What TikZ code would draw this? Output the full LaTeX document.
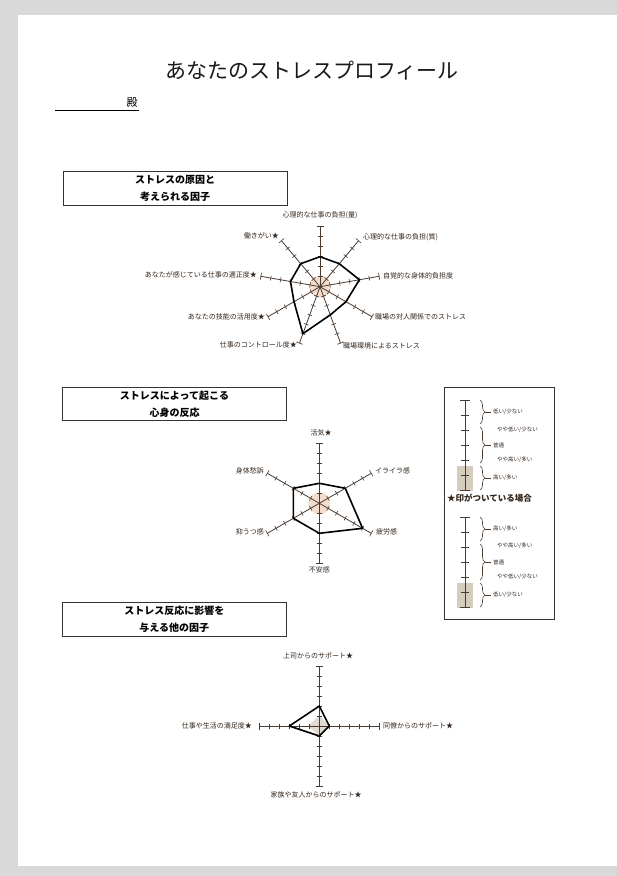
\documentclass[tikz,border=0pt]{standalone}
\usepackage{fontspec}
\setmainfont{Noto Sans CJK JP}
\usetikzlibrary{decorations.pathreplacing}
\definecolor{pagegray}{HTML}{D9D9D9}
\definecolor{axiscol}{HTML}{4A3B30}
\definecolor{labelcol}{HTML}{33261C}
\definecolor{peach}{HTML}{F3DCCB}
\definecolor{tanfill}{HTML}{D6CCBE}
\definecolor{boxcol}{HTML}{333333}
\begin{document}
\begin{tikzpicture}[x=1pt,y=1pt,
  axisline/.style={draw=axiscol, line width=0.8pt},
  tickline/.style={draw=axiscol, line width=0.6pt},
  datapoly/.style={draw=black, line width=1.6pt, line join=round},
  axislabel/.style={font=\fontsize{7}{8}\selectfont, text=labelcol, inner sep=0pt},
  headbox/.style={draw=boxcol, line width=0.9pt, minimum width=224pt, minimum height=33.5pt, inner sep=0pt, align=center, font=\fontsize{10}{17}\selectfont\bfseries},
  legaxis/.style={draw=axiscol, line width=0.8pt},
  legbrace/.style={draw=axiscol, line width=0.6pt},
  leglabel/.style={font=\fontsize{5.5}{6}\selectfont, text=labelcol, inner sep=0pt, anchor=west}]
\useasboundingbox (0,0) rectangle (617,-876);
\fill[pagegray] (0,0) rectangle (617,-876);
\fill[white] (18,-15) rectangle (617,-866);

% title
\node[font=\fontsize{21}{24}\selectfont, text=black!90, inner sep=0pt] (title) at (312,-71) {あなたのストレスプロフィール};
\node[font=\fontsize{11}{12}\selectfont, inner sep=0pt] (dono) at (132,-103) {殿};
\coordinate (ulA) at (55,-110.5);
\coordinate (ulB) at (139,-110.5);
\draw[line width=0.6pt] (ulA) -- (ulB);

% section boxes
\node[headbox] (box1) at (175,-188.3) {ストレスの原因と\\考えられる因子};
\node[headbox] (box2) at (174.5,-404) {ストレスによって起こる\\心身の反応};
\node[headbox] (box3) at (174.3,-619.5) {ストレス反応に影響を\\与える他の因子};

% chart 1
\coordinate (c1) at (320,-286.7);
\begin{scope}[shift={(c1)}]
  \fill[peach] (0,0) circle (11);
  \foreach \a in {90,50,10,-30,-70,-110,-150,170,130}{
    \draw[axisline] (0,0) -- (\a:60);
    \foreach \r in {10,20,30,40,50} \draw[tickline, rotate=\a] (\r,-2.5) -- (\r,2.5);
    \draw[tickline, rotate=\a] (60,-3.5) -- (60,3.5);
  }
  \draw[datapoly] (90:30) -- (50:30) -- (10:40) -- (-30:30) -- (-70:30) -- (-110:50) -- (-150:30) -- (170:30) -- (130:30) -- cycle;
  \node[axislabel] (l11) at (0,71) {心理的な仕事の負担(量)};
  \node[axislabel, anchor=west] (l12) at (43,49.7) {心理的な仕事の負担(質)};
  \node[axislabel, anchor=west] (l13) at (63,10.7) {自覚的な身体的負担度};
  \node[axislabel, anchor=west] (l14) at (55,-30.3) {職場の対人関係でのストレス};
  \node[axislabel, anchor=west] (l15) at (23,-59) {職場環境によるストレス};
  \node[axislabel, anchor=east] (l16) at (-23,-58.3) {仕事のコントロール度★};
  \node[axislabel, anchor=east] (l17) at (-55,-30.6) {あなたの技能の活用度★};
  \node[axislabel, anchor=east] (l18) at (-63,11.7) {あなたが感じている仕事の適正度★};
  \node[axislabel, anchor=east] (l19) at (-41,50.7) {働きがい★};
\end{scope}

% chart 2
\coordinate (c2) at (319.3,-503.3);
\begin{scope}[shift={(c2)}]
  \fill[peach] (0,0) circle (11);
  \foreach \a in {90,30,-30,-90,-150,150}{
    \draw[axisline] (0,0) -- (\a:60);
    \foreach \r in {10,20,30,40,50} \draw[tickline, rotate=\a] (\r,-2.5) -- (\r,2.5);
    \draw[tickline, rotate=\a] (60,-3.5) -- (60,3.5);
  }
  \draw[datapoly] (90:20) -- (30:30) -- (-30:50) -- (-90:30) -- (-150:30) -- (150:30) -- cycle;
  \node[axislabel] (l21) at (1.7,70) {活気★};
  \node[axislabel, anchor=west] (l22) at (55.7,32.3) {イライラ感};
  \node[axislabel, anchor=west] (l23) at (56.7,-28.4) {疲労感};
  \node[axislabel] (l24) at (0,-66.7) {不安感};
  \node[axislabel, anchor=east] (l25) at (-55.3,-28.4) {抑うつ感};
  \node[axislabel, anchor=east] (l26) at (-55.3,32.3) {身体愁訴};
\end{scope}

% chart 3
\coordinate (c3) at (319.3,-726);
\begin{scope}[shift={(c3)}]
  \fill[tanfill!70!white] (0,11) -- (10,0) -- (0,-10) -- (-11,0) -- cycle;
  \foreach \a in {90,0,-90,180}{
    \draw[axisline] (0,0) -- (\a:60);
    \foreach \r in {10,20,30,40,50} \draw[tickline, rotate=\a] (\r,-2.5) -- (\r,2.5);
    \draw[tickline, rotate=\a] (60,-3.5) -- (60,3.5);
  }
  \draw[datapoly] (90:20) -- (0:10) -- (-90:10) -- (180:30) -- cycle;
  \node[axislabel] (l31) at (-1.3,70) {上司からのサポート★};
  \node[axislabel, anchor=west] (l32) at (63.7,0) {同僚からのサポート★};
  \node[axislabel] (l33) at (-3.3,-69) {家族や友人からのサポート★};
  \node[axislabel, anchor=east] (l34) at (-67.3,0) {仕事や生活の満足度★};
\end{scope}

% legend
\node[draw=boxcol, line width=0.9pt, minimum width=110pt, minimum height=232pt, inner sep=0pt] (legend) at (499,-503) {};
% top scale
\fill[tanfill] (457,-466) rectangle (473,-491);
\coordinate (ta) at (465,-400);
\coordinate (tb) at (465,-490);
\draw[legaxis] (ta) -- (tb);
\foreach \y in {415,430,445,460,475} \draw[tickline] (461,-\y) -- (469,-\y);
\foreach \y in {400,490} \draw[tickline] (460,-\y) -- (470,-\y);
\draw[legbrace, decorate, decoration={brace, amplitude=5pt}] (480,-400) -- (480,-424);
\draw[legbrace, decorate, decoration={brace, amplitude=5pt}] (480,-427) -- (480,-463);
\draw[legbrace, decorate, decoration={brace, amplitude=5pt}] (480,-466) -- (480,-490);
\foreach \y in {412,445,478} \draw[legbrace] (485,-\y) -- (491,-\y);
\node[leglabel] (t1) at (493,-412) {低い/少ない};
\node[leglabel] (t2) at (497,-430) {やや低い/少ない};
\node[leglabel] (t3) at (493,-445) {普通};
\node[leglabel] (t4) at (497,-460) {やや高い/多い};
\node[leglabel] (t5) at (493,-478) {高い/多い};
\node[font=\fontsize{8.5}{10}\selectfont\bfseries, text=labelcol, inner sep=0pt, anchor=west] (star) at (447,-498) {★印がついている場合};
% bottom scale
\fill[tanfill] (457,-583) rectangle (473,-608);
\coordinate (ba) at (465,-517);
\coordinate (bb) at (465,-607);
\draw[legaxis] (ba) -- (bb);
\foreach \y in {532,547,562,577,592} \draw[tickline] (461,-\y) -- (469,-\y);
\foreach \y in {517,607} \draw[tickline] (460,-\y) -- (470,-\y);
\draw[legbrace, decorate, decoration={brace, amplitude=5pt}] (480,-517) -- (480,-541);
\draw[legbrace, decorate, decoration={brace, amplitude=5pt}] (480,-544) -- (480,-580);
\draw[legbrace, decorate, decoration={brace, amplitude=5pt}] (480,-583) -- (480,-607);
\foreach \y in {529,562,595} \draw[legbrace] (485,-\y) -- (491,-\y);
\node[leglabel] (b1) at (493,-529) {高い/多い};
\node[leglabel] (b2) at (497,-546) {やや高い/多い};
\node[leglabel] (b3) at (493,-562) {普通};
\node[leglabel] (b4) at (497,-577) {やや低い/少ない};
\node[leglabel] (b5) at (493,-595) {低い/少ない};
\end{tikzpicture}
\end{document}
